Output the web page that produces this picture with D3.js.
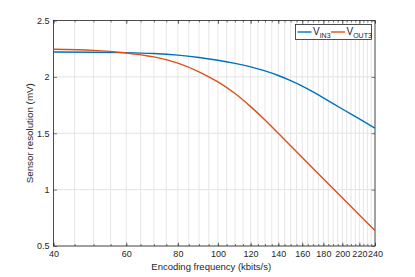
<!DOCTYPE html>
<html>
<head>
<meta charset="utf-8">
<script src="https://cdn.jsdelivr.net/npm/d3@7"></script>
<style>
  body { margin: 0; background: #fff; }
  svg { display: block; font-family: "Liberation Sans", Arial, sans-serif; }
</style>
</head>
<body>
<svg width="415" height="277"></svg>
<script>
var freq = [40, 50, 60, 70, 80, 90, 100, 110, 120, 130, 140, 150, 160, 170, 180, 190, 200, 210, 220, 230, 240];
var vIn3 = [2.22, 2.219, 2.215, 2.207, 2.193, 2.172, 2.148, 2.12, 2.089, 2.053, 2.012, 1.966, 1.918, 1.866, 1.814, 1.763, 1.715, 1.67, 1.627, 1.586, 1.545];
var vOut3 = [2.245, 2.235, 2.212, 2.177, 2.122, 2.045, 1.955, 1.852, 1.736, 1.618, 1.5, 1.389, 1.285, 1.188, 1.097, 1.01, 0.928, 0.85, 0.776, 0.705, 0.637];
var xTicks = [40, 60, 80, 100, 120, 140, 160, 180, 200, 220, 240];
var xMinor = d3.range(40, 241, 5);
var yTicks = [0.5, 1, 1.5, 2, 2.5];

var svg = d3.select("svg");
var pLeft = 53.5, pRight = 375, pTop = 20.5, pBottom = 246;
var ink = "#262626";

var x = d3.scaleLog().domain([40, 240]).range([pLeft, pRight]);
var y = d3.scaleLinear().domain([0.5, 2.5]).range([pBottom, pTop]);

// grid
var grid = svg.append("g");
grid.selectAll(".vg").data(xMinor).enter().append("line")
    .attr("x1", function(d) { return x(d); }).attr("x2", function(d) { return x(d); })
    .attr("y1", pTop).attr("y2", pBottom)
    .attr("stroke", "#e6e6e6").attr("stroke-width", 1);
grid.selectAll(".hg").data(yTicks).enter().append("line")
    .attr("x1", pLeft).attr("x2", pRight)
    .attr("y1", function(d) { return y(d); }).attr("y2", function(d) { return y(d); })
    .attr("stroke", "#e3e3e3").attr("stroke-width", 1);

// axes (ticks inward)
svg.append("g").attr("transform", "translate(0," + pBottom + ")")
    .call(d3.axisBottom(x).tickValues(xMinor).tickSize(-2).tickFormat(""));
svg.append("g").attr("transform", "translate(0," + pTop + ")")
    .call(d3.axisTop(x).tickValues(xMinor).tickSize(-2).tickFormat(""));
svg.append("g").attr("transform", "translate(0," + pBottom + ")")
    .call(d3.axisBottom(x).tickValues(xTicks).tickSize(-3.5).tickPadding(5).tickFormat(d3.format("d")));
svg.append("g").attr("transform", "translate(0," + pTop + ")")
    .call(d3.axisTop(x).tickValues(xTicks).tickSize(-3.5).tickFormat(""));
svg.append("g").attr("transform", "translate(" + pLeft + ",0)")
    .call(d3.axisLeft(y).tickValues(yTicks).tickSize(-3.5).tickPadding(4).tickFormat(d3.format("")));
svg.append("g").attr("transform", "translate(" + pRight + ",0)")
    .call(d3.axisRight(y).tickValues(yTicks).tickSize(-3.5).tickFormat(""));

svg.selectAll(".domain").remove();
svg.selectAll(".tick line").attr("stroke", ink).attr("stroke-width", 0.6);
svg.selectAll(".tick text").attr("fill", ink).style("font-size", "9px");

svg.append("rect").attr("x", pLeft).attr("y", pTop)
    .attr("width", pRight - pLeft).attr("height", pBottom - pTop)
    .attr("fill", "none").attr("stroke", ink).attr("stroke-width", 0.8);

// lines
var line = function(vals) {
    return d3.line()
        .x(function(d, i) { return x(freq[i]); })
        .y(function(d) { return y(d); })
        .curve(d3.curveNatural)(vals);
};
svg.append("path").attr("d", line(vIn3)).attr("fill", "none").attr("stroke", "#0072BD").attr("stroke-width", 1.4);
svg.append("path").attr("d", line(vOut3)).attr("fill", "none").attr("stroke", "#D95319").attr("stroke-width", 1.4);

// labels
svg.append("text").attr("x", (pLeft + pRight) / 2 - 3).attr("y", 270)
    .attr("text-anchor", "middle").attr("fill", ink).style("font-size", "9.5px")
    .text("Encoding frequency (kbits/s)");
svg.append("text").attr("transform", "translate(33," + ((pTop + pBottom) / 2) + ") rotate(-90)")
    .attr("text-anchor", "middle").attr("fill", ink).style("font-size", "9.8px")
    .text("Sensor resolution (mV)");

// legend
var lg = svg.append("g");
lg.append("rect").attr("x", 295.5).attr("y", 24.5).attr("width", 76).attr("height", 15)
    .attr("fill", "#fff").attr("stroke", ink).attr("stroke-width", 0.8);
var items = [["IN3", "#0072BD", 297.5], ["OUT3", "#D95319", 331]];
items.forEach(function(it) {
    lg.append("line").attr("x1", it[2]).attr("x2", it[2] + 14).attr("y1", 32).attr("y2", 32)
        .attr("stroke", it[1]).attr("stroke-width", 1.4);
    var t = lg.append("text").attr("x", it[2] + 15.5).attr("y", 35).attr("fill", ink).style("font-size", "10px");
    t.append("tspan").text("V");
    t.append("tspan").attr("dy", 2.5).style("font-size", "7px").text(it[0]);
});
</script>
</body>
</html>
